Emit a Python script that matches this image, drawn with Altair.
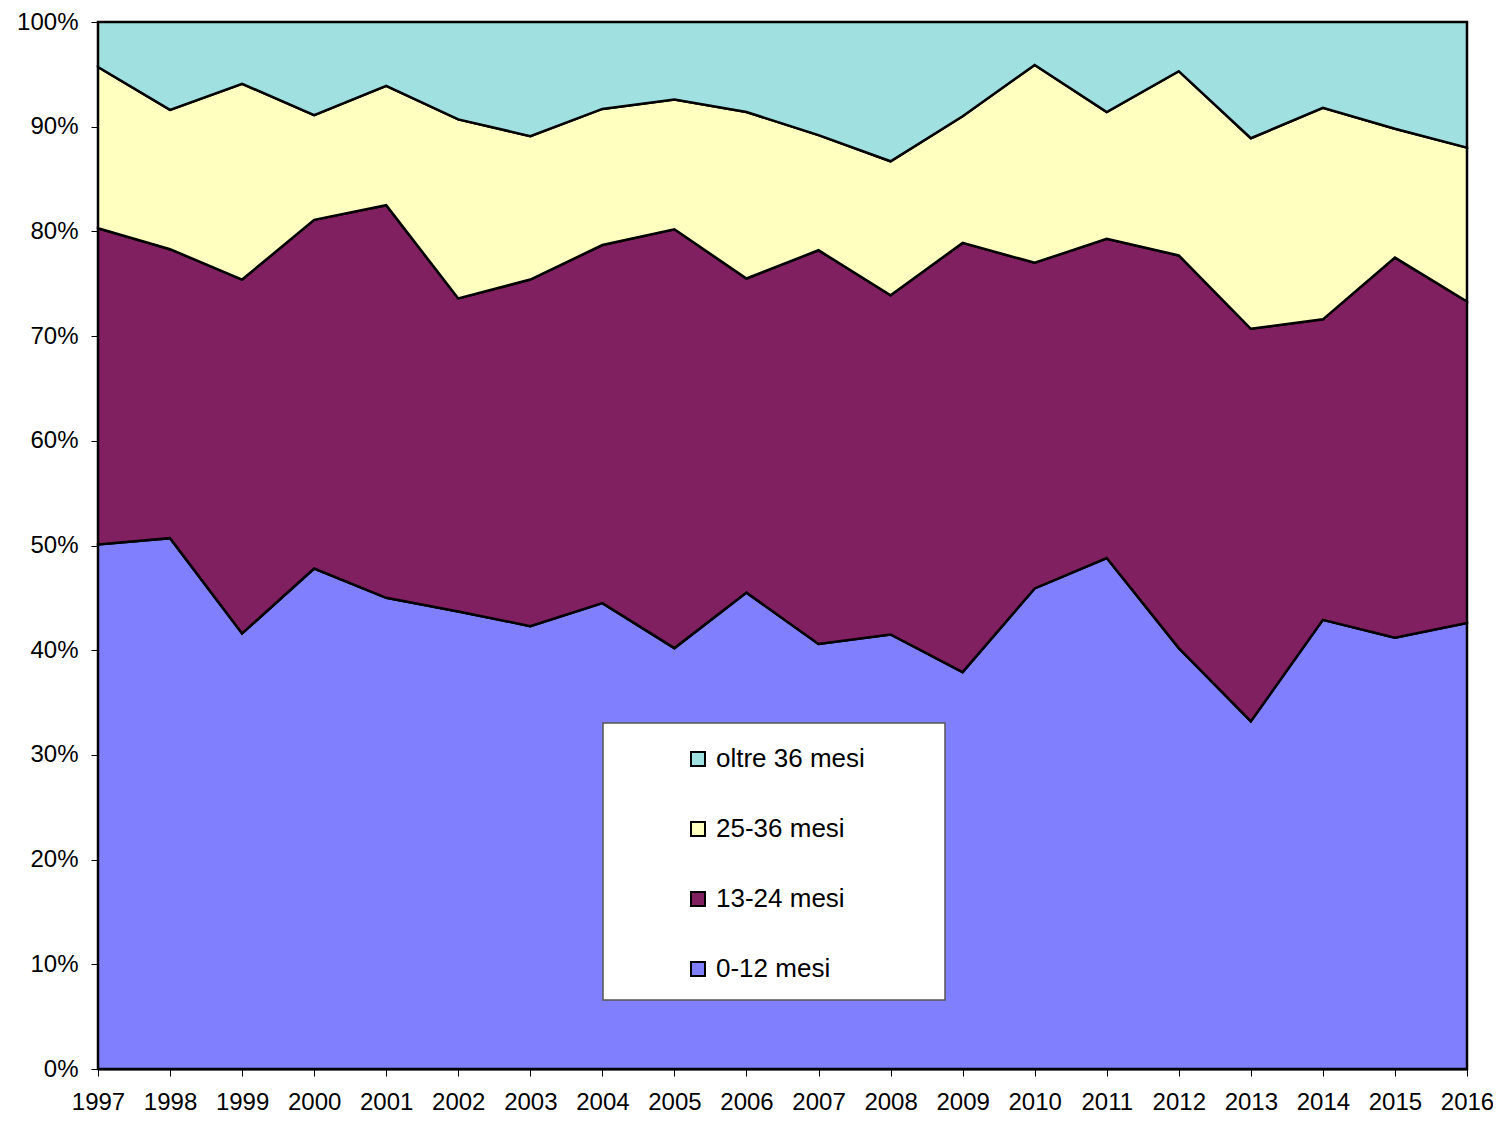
import altair as alt
import pandas as pd

years = list(range(1997, 2017))
series_names = ["0-12 mesi", "13-24 mesi", "25-36 mesi", "oltre 36 mesi"]
legend_order = ["oltre 36 mesi", "25-36 mesi", "13-24 mesi", "0-12 mesi"]
colors = {"0-12 mesi": "#8080FF", "13-24 mesi": "#802060",
          "25-36 mesi": "#FFFFC0", "oltre 36 mesi": "#A0E0E0"}

v_0_12 = [50.1, 50.7, 41.6, 47.8, 45.0, 43.7, 42.3, 44.5, 40.2, 45.5,
          40.6, 41.5, 37.9, 45.9, 48.8, 40.2, 33.2, 42.9, 41.2, 42.6]
v_13_24 = [30.2, 27.6, 33.8, 33.3, 37.5, 29.9, 33.1, 34.2, 40.0, 30.0,
           37.6, 32.4, 41.0, 31.1, 30.5, 37.5, 37.5, 28.7, 36.3, 30.7]
v_25_36 = [15.4, 13.3, 18.7, 10.0, 11.4, 17.1, 13.7, 13.0, 12.4, 15.9,
           11.0, 12.8, 12.1, 18.9, 12.1, 17.6, 18.2, 20.2, 12.3, 14.7]
v_oltre = [4.3, 8.4, 5.9, 8.9, 6.1, 9.3, 10.9, 8.3, 7.4, 8.6,
           10.8, 13.3, 9.0, 4.1, 8.6, 4.7, 11.1, 8.2, 10.2, 12.0]

rows = []
for idx, (name, vals) in enumerate(zip(series_names, [v_0_12, v_13_24, v_25_36, v_oltre])):
    for yr, v in zip(years, vals):
        rows.append({"anno": yr, "serie": name, "valore": v, "ordine": idx})
df = pd.DataFrame(rows)

FONT = "Liberation Sans"

areas = alt.Chart(df).mark_area(
    stroke="black", strokeWidth=2.5, strokeJoin="miter", interpolate="linear"
).encode(
    x=alt.X("anno:Q", title=None,
            scale=alt.Scale(domain=[1997, 2016], nice=False, zero=False),
            axis=alt.Axis(values=years, format="d", tickSize=7, labelPadding=14,
                          domainColor="black", tickColor="black", domainWidth=2,
                          labelFontSize=24, labelColor="black", labelFont=FONT,
                          grid=False, labelFlush=False, labelOverlap=False)),
    y=alt.Y("valore:Q", title=None, stack="normalize",
            scale=alt.Scale(domain=[0, 1], nice=False),
            axis=alt.Axis(values=[i / 10 for i in range(11)], format=".0%",
                          tickSize=7, labelPadding=13, domainColor="black",
                          tickColor="black", domainWidth=2, grid=False,
                          labelFontSize=24, labelColor="black", labelFont=FONT)),
    color=alt.Color("serie:N",
                    scale=alt.Scale(domain=legend_order,
                                    range=[colors[s] for s in legend_order]),
                    legend=alt.Legend(orient="none", legendX=587, legendY=724,
                                      title=None, symbolType="square",
                                      symbolSize=196, symbolStrokeColor="black",
                                      symbolStrokeWidth=2, symbolOpacity=1,
                                      labelFontSize=26, labelFont=FONT,
                                      labelColor="black", labelOffset=5,
                                      rowPadding=44, padding=0)),
    order=alt.Order("ordine:Q", sort="ascending"),
)

legend_box = alt.Chart(pd.DataFrame({"k": [0]})).mark_rect(
    fill="white", stroke="#555555", strokeWidth=1.5
).encode(
    x=alt.value(505), x2=alt.value(847), y=alt.value(701), y2=alt.value(978)
)

chart = alt.layer(areas, legend_box).properties(
    width=1369, height=1047,
    autosize=alt.AutoSizeParams(type="none"),
    padding={"left": 90, "top": 14, "right": 26, "bottom": 45},
).configure_view(strokeWidth=0).configure(background="white")

chart.save("out.html", embed_options={"renderer": "svg", "actions": False})
